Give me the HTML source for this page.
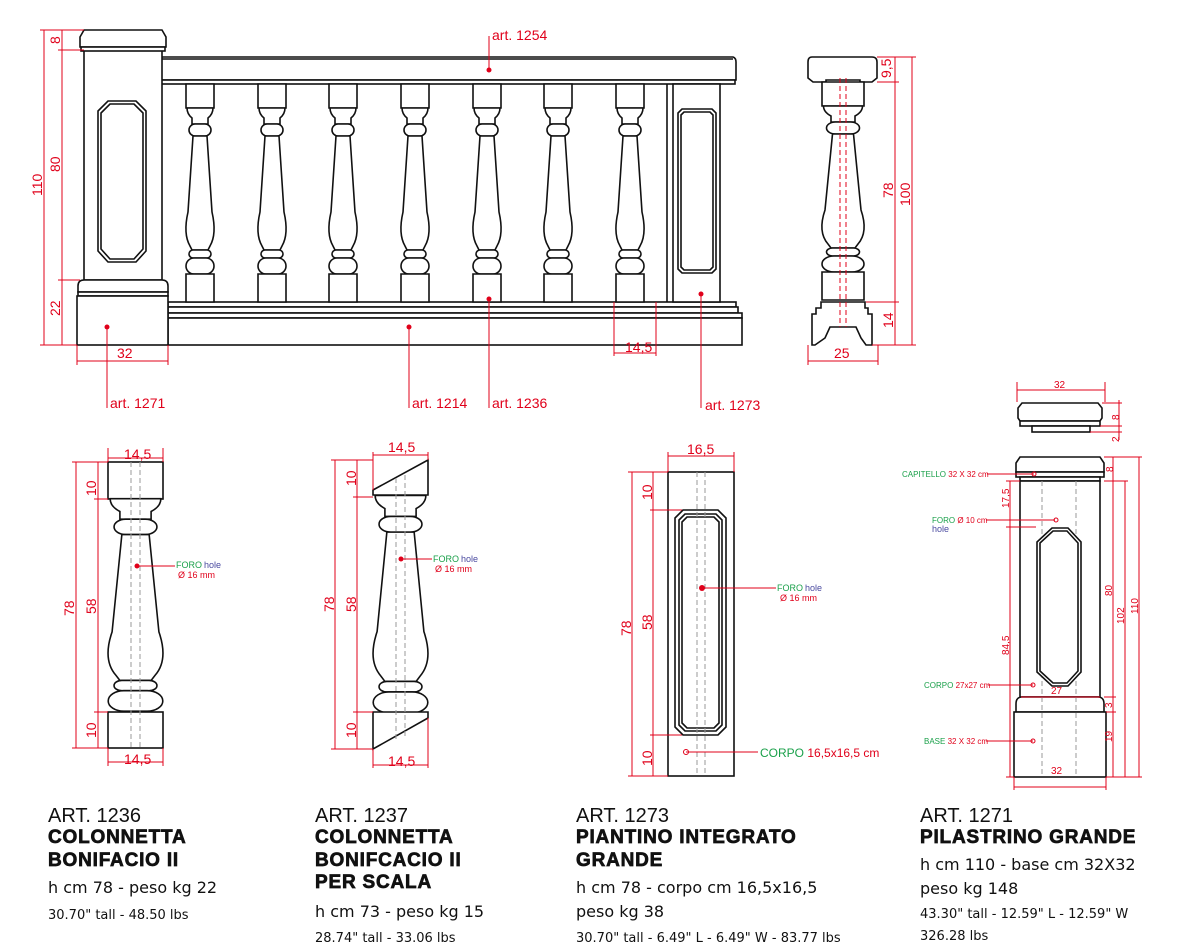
<!DOCTYPE html>
<html><head><meta charset="utf-8"><style>
html,body{margin:0;padding:0;background:#fff;}
svg{display:block;}
.k{fill:none;stroke:#111;stroke-width:1.6;}
.kw{fill:#fff;stroke:#111;stroke-width:1.6;}
.r{stroke:#e0001a;stroke-width:1;fill:none;}
.d{stroke:#999;stroke-width:1;stroke-dasharray:5,3;fill:none;}
.rt{fill:#e0001a;font-family:"Liberation Sans",sans-serif;font-size:14px;}
.rs{fill:#e0001a;font-family:"Liberation Sans",sans-serif;font-size:9px;}
.gs{fill:#1aa04a;font-family:"Liberation Sans",sans-serif;font-size:9px;}
.bs{fill:#4a4aa0;font-family:"Liberation Sans",sans-serif;font-size:9px;}
.t1{font-family:"Liberation Sans",sans-serif;font-size:20px;fill:#111;}
.t2{font-family:"Liberation Sans",sans-serif;font-size:19px;font-weight:bold;fill:#111;stroke:#111;stroke-width:0.7;letter-spacing:0.8px;}
.t3{font-family:"DejaVu Sans",sans-serif;font-size:16px;fill:#111;}
.t4{font-family:"DejaVu Sans",sans-serif;font-size:13px;fill:#111;}
.bal *{vector-effect:non-scaling-stroke;}
</style></head><body>
<svg width="1200" height="948" viewBox="0 0 1200 948" xmlns="http://www.w3.org/2000/svg">
<defs>
<g id="bal" class="bal">
<rect class="kw" x="-14" y="0" width="28" height="24"/>
<path class="kw" d="M-13,24 H13 Q13,30 8,34 V40 H-8 V34 Q-13,30 -13,24 Z"/>
<rect class="kw" x="-11" y="40" width="22" height="12" rx="6"/>
<path class="kw" d="M-7,52 H7 L12,128 Q17,150 10,162 L8,166 H-8 L-10,162 Q-17,150 -12,128 Z"/>
<rect class="kw" x="-11" y="166" width="22" height="8" rx="4"/>
<rect class="kw" x="-14" y="174" width="28" height="16" rx="8"/>
<rect class="kw" x="-14" y="190" width="28" height="28"/>
</g>
<g id="balb" class="bal">
<path class="kw" d="M-13,24 H13 Q13,30 8,34 V40 H-8 V34 Q-13,30 -13,24 Z"/>
<rect class="kw" x="-11" y="40" width="22" height="12" rx="6"/>
<path class="kw" d="M-7,52 H7 L12,128 Q17,150 10,162 L8,166 H-8 L-10,162 Q-17,150 -12,128 Z"/>
<rect class="kw" x="-11" y="166" width="22" height="8" rx="4"/>
<rect class="kw" x="-14" y="174" width="28" height="16" rx="8"/>
</g>
</defs>

<!-- ===== TOP RAILING ===== -->
<path class="kw" d="M160,57 H733 Q736,58 736,62 V80 H160 Z"/>
<line class="k" x1="160" y1="59" x2="733" y2="59"/>
<rect class="kw" x="160" y="80" width="575" height="4"/>
<rect class="kw" x="168" y="302" width="568" height="5"/>
<rect class="kw" x="168" y="307" width="570" height="6"/>
<rect class="kw" x="168" y="313" width="574" height="5"/>
<rect class="kw" x="168" y="318" width="574" height="27"/>
<use href="#bal" transform="translate(200,84)"/>
<use href="#bal" transform="translate(272,84)"/>
<use href="#bal" transform="translate(343,84)"/>
<use href="#bal" transform="translate(415,84)"/>
<use href="#bal" transform="translate(487,84)"/>
<use href="#bal" transform="translate(558,84)"/>
<use href="#bal" transform="translate(630,84)"/>
<rect class="kw" x="673" y="84" width="47" height="218"/>
<line class="k" x1="667" y1="84" x2="667" y2="302"/>
<path class="kw" d="M682,109 H712 L716,113 V269 L712,273 H682 L678,269 V113 Z"/>
<path class="k" d="M684,112 H710 L713,115 V267 L710,270 H684 L681,267 V115 Z"/>
<rect class="kw" x="84" y="50" width="78" height="230"/>
<path class="kw" d="M80,37 L84,30 H162 L166,37 V47 H80 Z"/>
<rect class="kw" x="81" y="47" width="84" height="4"/>
<path class="kw" d="M78,286 Q78,280 84,280 H162 Q168,280 168,286 V292 H78 Z"/>
<rect class="kw" x="78" y="292" width="90" height="4"/>
<rect class="kw" x="77" y="296" width="91" height="49"/>
<path class="kw" d="M108,101 H136 L146,111 V251 L136,262 H108 L98,251 V111 Z"/>
<path class="k" d="M110,104 H134 L143,113 V249 L134,259 H110 L101,249 V113 Z"/>

<!-- side view -->
<path class="kw" d="M812,57 H872 Q877,57 877,62 V78 L872,82 H860 V80 H826 V82 H813 L808,78 V62 Q808,57 812,57 Z"/>
<g transform="translate(843,82) scale(1.5,1)"><use href="#bal"/></g>
<path class="kw" d="M821,302 H865 V308 L868,308 V314 L872,314 V345 H866 L861,338 L856,327 H830 L825,338 L815,345 H812 V314 L816,314 V308 H821 Z"/>
<line class="d" x1="840" y1="78" x2="840" y2="327" style="stroke:#e0001a"/>
<line class="d" x1="846" y1="78" x2="846" y2="327" style="stroke:#e0001a"/>

<g class="r">
<line x1="44" y1="30" x2="44" y2="345"/>
<line x1="62" y1="30" x2="62" y2="345"/>
<line x1="40" y1="30" x2="84" y2="30"/>
<line x1="58" y1="50" x2="84" y2="50"/>
<line x1="58" y1="280" x2="80" y2="280"/>
<line x1="40" y1="345" x2="77" y2="345"/>
<line x1="77" y1="345" x2="77" y2="365"/><line x1="168" y1="345" x2="168" y2="365"/>
<line x1="77" y1="361" x2="168" y2="361"/>
<line x1="107" y1="327" x2="107" y2="408"/>
<line x1="409" y1="327" x2="409" y2="408"/>
<line x1="489" y1="70" x2="489" y2="36"/>
<line x1="489" y1="299" x2="489" y2="408"/>
<line x1="701" y1="294" x2="701" y2="408"/>
<line x1="614" y1="302" x2="614" y2="356"/><line x1="656" y1="302" x2="656" y2="356"/>
<line x1="614" y1="353" x2="656" y2="353"/>
<line x1="808" y1="345" x2="808" y2="365"/><line x1="878" y1="345" x2="878" y2="365"/>
<line x1="808" y1="361" x2="878" y2="361"/>
<line x1="877" y1="57" x2="916" y2="57"/>
<line x1="877" y1="82" x2="899" y2="82"/>
<line x1="866" y1="302" x2="899" y2="302"/>
<line x1="872" y1="345" x2="916" y2="345"/>
<line x1="895" y1="57" x2="895" y2="345"/>
<line x1="912" y1="57" x2="912" y2="345"/>
</g>
<g fill="#e0001a">
<circle cx="107" cy="327" r="2.5"/><circle cx="409" cy="327" r="2.5"/><circle cx="489" cy="70" r="2.5"/><circle cx="489" cy="299" r="2.5"/><circle cx="701" cy="294" r="2.5"/>
</g>
<text class="rt" x="492" y="40">art. 1254</text>
<text class="rt" x="110" y="408">art. 1271</text>
<text class="rt" x="412" y="408">art. 1214</text>
<text class="rt" x="492" y="408">art. 1236</text>
<text class="rt" x="705" y="410">art. 1273</text>
<text class="rt" x="117" y="358">32</text>
<text class="rt" x="625" y="352">14,5</text>
<text class="rt" x="834" y="358">25</text>
<text class="rt" transform="translate(42,196) rotate(-90)">110</text>
<text class="rt" transform="translate(60,172) rotate(-90)">80</text>
<text class="rt" transform="translate(60,44) rotate(-90)">8</text>
<text class="rt" transform="translate(60,316) rotate(-90)">22</text>
<text class="rt" transform="translate(891,78) rotate(-90)">9,5</text>
<text class="rt" transform="translate(893,198) rotate(-90)">78</text>
<text class="rt" transform="translate(910,206) rotate(-90)">100</text>
<text class="rt" transform="translate(893,328) rotate(-90)">14</text>

<!-- ===== ART 1236 ===== -->
<rect class="kw" x="108" y="462" width="55" height="37"/>
<g transform="translate(135.5,468) scale(1.95,1.28)"><use href="#balb"/></g>
<rect class="kw" x="108" y="712" width="55" height="36"/>
<line class="d" x1="131" y1="462" x2="131" y2="748"/><line class="d" x1="140" y1="462" x2="140" y2="748"/>
<g class="r">
<line x1="108" y1="448" x2="108" y2="462"/><line x1="163" y1="448" x2="163" y2="462"/><line x1="108" y1="458" x2="163" y2="458"/>
<line x1="108" y1="748" x2="108" y2="766"/><line x1="163" y1="748" x2="163" y2="766"/><line x1="108" y1="762" x2="163" y2="762"/>
<line x1="76" y1="462" x2="76" y2="748"/><line x1="98" y1="462" x2="98" y2="748"/>
<line x1="72" y1="462" x2="108" y2="462"/><line x1="94" y1="499" x2="108" y2="499"/><line x1="94" y1="712" x2="108" y2="712"/><line x1="72" y1="748" x2="108" y2="748"/>
<line x1="137" y1="566" x2="175" y2="566"/>
</g>
<circle cx="137" cy="566" r="2.5" fill="#e0001a"/>
<text class="gs" x="176" y="568">FORO</text><text class="bs" x="204" y="568">hole</text>
<text class="rs" x="178" y="578">Ø 16 mm</text>
<text class="rt" x="124" y="459">14,5</text>
<text class="rt" x="124" y="764">14,5</text>
<text class="rt" transform="translate(74,616) rotate(-90)">78</text>
<text class="rt" transform="translate(96,614) rotate(-90)">58</text>
<text class="rt" transform="translate(96,496) rotate(-90)">10</text>
<text class="rt" transform="translate(96,738) rotate(-90)">10</text>

<!-- ===== ART 1237 ===== -->
<path class="kw" d="M373,490 L428,460 V495 H373 Z"/>
<g transform="translate(400.5,464) scale(1.95,1.31)"><use href="#balb"/></g>
<path class="kw" d="M373,712 H428 L428,718 L373,749 Z"/>
<line class="d" x1="396" y1="478" x2="396" y2="740"/><line class="d" x1="405" y1="475" x2="405" y2="736"/>
<g class="r">
<line x1="373" y1="452" x2="373" y2="490"/><line x1="428" y1="452" x2="428" y2="460"/><line x1="373" y1="455" x2="428" y2="455"/>
<line x1="373" y1="749" x2="373" y2="768"/><line x1="428" y1="718" x2="428" y2="768"/><line x1="373" y1="765" x2="428" y2="765"/>
<line x1="335" y1="460" x2="335" y2="749"/><line x1="357" y1="460" x2="357" y2="749"/>
<line x1="331" y1="460" x2="373" y2="460"/><line x1="353" y1="497" x2="373" y2="497"/><line x1="353" y1="712" x2="373" y2="712"/><line x1="331" y1="749" x2="373" y2="749"/>
<line x1="401" y1="559" x2="432" y2="559"/>
</g>
<circle cx="401" cy="559" r="2.5" fill="#e0001a"/>
<text class="gs" x="433" y="562">FORO</text><text class="bs" x="461" y="562">hole</text>
<text class="rs" x="435" y="572">Ø 16 mm</text>
<text class="rt" x="388" y="452">14,5</text>
<text class="rt" x="388" y="766">14,5</text>
<text class="rt" transform="translate(334,612) rotate(-90)">78</text>
<text class="rt" transform="translate(356,612) rotate(-90)">58</text>
<text class="rt" transform="translate(356,486) rotate(-90)">10</text>
<text class="rt" transform="translate(356,738) rotate(-90)">10</text>

<!-- ===== ART 1273 ===== -->
<rect class="kw" x="668" y="472" width="66" height="304"/>
<path class="kw" d="M683,510 H718 L726,518 V727 L718,735 H683 L675,727 V518 Z"/>
<path class="k" d="M685,514 H716 L722,520 V725 L716,731 H685 L679,725 V520 Z"/>
<path class="k" d="M687,517 H714 L719,522 V723 L714,728 H687 L682,723 V522 Z"/>
<line class="d" x1="697" y1="472" x2="697" y2="776"/><line class="d" x1="705" y1="472" x2="705" y2="776"/>
<g class="r">
<line x1="668" y1="452" x2="668" y2="472"/><line x1="734" y1="452" x2="734" y2="472"/><line x1="668" y1="456" x2="734" y2="456"/>
<line x1="632" y1="472" x2="632" y2="776"/><line x1="653" y1="472" x2="653" y2="776"/>
<line x1="628" y1="472" x2="668" y2="472"/><line x1="650" y1="510" x2="682" y2="510"/><line x1="650" y1="735" x2="682" y2="735"/><line x1="628" y1="776" x2="668" y2="776"/>
<line x1="702" y1="588" x2="776" y2="588"/>
<line x1="686" y1="752" x2="758" y2="752"/>
</g>
<circle cx="702" cy="588" r="3" fill="#e0001a"/>
<circle cx="686" cy="752" r="2.5" fill="none" stroke="#e0001a"/>
<text class="gs" x="777" y="591">FORO</text><text class="bs" x="805" y="591">hole</text>
<text class="rs" x="780" y="601">Ø 16 mm</text>
<text x="760" y="757" font-family="Liberation Sans,sans-serif" font-size="12" fill="#1aa04a">CORPO <tspan fill="#e0001a">16,5x16,5 cm</tspan></text>
<text class="rt" x="687" y="454">16,5</text>
<text class="rt" transform="translate(631,636) rotate(-90)">78</text>
<text class="rt" transform="translate(652,630) rotate(-90)">58</text>
<text class="rt" transform="translate(652,500) rotate(-90)">10</text>
<text class="rt" transform="translate(652,766) rotate(-90)">10</text>

<!-- ===== ART 1271 ===== -->
<path class="kw" d="M1022,403 H1098 L1102,408 V418 L1100,421 H1020 L1018,418 V408 Z"/>
<rect class="kw" x="1020" y="421" width="80" height="5"/>
<rect class="kw" x="1032" y="426" width="58" height="6"/>
<path class="kw" d="M1020,457 H1100 L1104,463 V472 H1016 V463 Z"/>
<rect class="kw" x="1016" y="472" width="88" height="5"/>
<rect class="kw" x="1020" y="477" width="80" height="4"/>
<rect class="kw" x="1020" y="481" width="80" height="216"/>
<path class="kw" d="M1016,704 Q1016,697 1022,697 H1098 Q1104,697 1104,704 V712 H1016 Z"/>
<rect class="kw" x="1014" y="712" width="92" height="65"/>
<line class="d" x1="1042" y1="481" x2="1042" y2="777"/><line class="d" x1="1076" y1="481" x2="1076" y2="777"/>
<path class="kw" d="M1052,528 H1068 L1081,542 V672 L1068,686 H1052 L1037,672 V542 Z"/>
<path class="k" d="M1053,531 H1067 L1078,543 V671 L1067,683 H1053 L1040,671 V543 Z"/>
<g class="r">
<line x1="1017" y1="382" x2="1017" y2="402"/><line x1="1105" y1="382" x2="1105" y2="402"/><line x1="1017" y1="390" x2="1105" y2="390"/>
<line x1="1102" y1="403" x2="1122" y2="403"/><line x1="1100" y1="426" x2="1122" y2="426"/><line x1="1090" y1="432" x2="1122" y2="432"/>
<line x1="1119" y1="400" x2="1119" y2="440"/>
<line x1="1104" y1="457" x2="1142" y2="457"/><line x1="1104" y1="481" x2="1128" y2="481"/>
<line x1="1104" y1="697" x2="1116" y2="697"/><line x1="1106" y1="712" x2="1116" y2="712"/>
<line x1="1106" y1="777" x2="1142" y2="777"/>
<line x1="1113" y1="457" x2="1113" y2="777"/>
<line x1="1125" y1="481" x2="1125" y2="777"/>
<line x1="1139" y1="457" x2="1139" y2="777"/>
<line x1="1010" y1="481" x2="1010" y2="777"/><line x1="1006" y1="481" x2="1020" y2="481"/><line x1="1006" y1="527" x2="1036" y2="527"/><line x1="1006" y1="777" x2="1014" y2="777"/>
<line x1="1021" y1="697" x2="1100" y2="697"/>
<line x1="1014" y1="777" x2="1014" y2="790"/><line x1="1106" y1="777" x2="1106" y2="790"/><line x1="1014" y1="787" x2="1106" y2="787"/>
<line x1="987" y1="474" x2="1034" y2="474"/>
<line x1="986" y1="520" x2="1055" y2="520"/>
<line x1="988" y1="685" x2="1033" y2="685"/>
<line x1="986" y1="741" x2="1033" y2="741"/>
</g>
<g fill="none" stroke="#e0001a"><circle cx="1034" cy="474" r="2"/><circle cx="1056" cy="520" r="2"/><circle cx="1033" cy="685" r="2"/><circle cx="1033" cy="741" r="2"/></g>
<text x="902" y="477" font-family="Liberation Sans,sans-serif" font-size="8" fill="#1aa04a">CAPITELLO <tspan fill="#e0001a">32 X 32 cm</tspan></text>
<text x="932" y="523" font-family="Liberation Sans,sans-serif" font-size="8" fill="#1aa04a">FORO <tspan fill="#e0001a">Ø 10 cm</tspan></text>
<text class="bs" x="932" y="532" font-size="8">hole</text>
<text x="924" y="688" font-family="Liberation Sans,sans-serif" font-size="8" fill="#1aa04a">CORPO <tspan fill="#e0001a">27x27 cm</tspan></text>
<text x="924" y="744" font-family="Liberation Sans,sans-serif" font-size="8" fill="#1aa04a">BASE <tspan fill="#e0001a">32 X 32 cm</tspan></text>
<g font-family="Liberation Sans,sans-serif" font-size="10" fill="#e0001a">
<text x="1054" y="388">32</text>
<text x="1051" y="694">27</text>
<text x="1051" y="774">32</text>
<text transform="translate(1119,420) rotate(-90)">8</text>
<text transform="translate(1119,442) rotate(-90)">2</text>
<text transform="translate(1113,472) rotate(-90)">8</text>
<text transform="translate(1112,596) rotate(-90)">80</text>
<text transform="translate(1124,624) rotate(-90)">102</text>
<text transform="translate(1138,614) rotate(-90)">110</text>
<text transform="translate(1112,708) rotate(-90)">3</text>
<text transform="translate(1112,742) rotate(-90)">19</text>
<text transform="translate(1009,508) rotate(-90)">17,5</text>
<text transform="translate(1009,655) rotate(-90)">84,5</text>
</g>

<!-- ===== TEXT BLOCKS ===== -->
<text class="t1" x="48" y="822">ART. 1236</text>
<text class="t2" x="48" y="843">COLONNETTA</text>
<text class="t2" x="48" y="866">BONIFACIO II</text>
<text class="t3" x="48" y="893">h cm 78 - peso kg 22</text>
<text class="t4" x="48" y="919">30.70" tall - 48.50 lbs</text>

<text class="t1" x="315" y="822">ART. 1237</text>
<text class="t2" x="315" y="843">COLONNETTA</text>
<text class="t2" x="315" y="866">BONIFCACIO II</text>
<text class="t2" x="315" y="888">PER SCALA</text>
<text class="t3" x="315" y="917">h cm 73 - peso kg 15</text>
<text class="t4" x="315" y="942">28.74" tall - 33.06 lbs</text>

<text class="t1" x="576" y="822">ART. 1273</text>
<text class="t2" x="576" y="843">PIANTINO INTEGRATO</text>
<text class="t2" x="576" y="866">GRANDE</text>
<text class="t3" x="576" y="893">h cm 78 - corpo cm 16,5x16,5</text>
<text class="t3" x="576" y="917"> peso kg 38</text>
<text class="t4" x="576" y="942">30.70" tall - 6.49" L - 6.49" W - 83.77 lbs</text>

<text class="t1" x="920" y="822">ART. 1271</text>
<text class="t2" x="920" y="843">PILASTRINO GRANDE</text>
<text class="t3" x="920" y="870">h cm 110 - base cm 32X32</text>
<text class="t3" x="920" y="894">peso kg 148</text>
<text class="t4" x="920" y="918">43.30" tall - 12.59" L - 12.59" W</text>
<text class="t4" x="920" y="940">326.28 lbs</text>
</svg>
</body></html>
